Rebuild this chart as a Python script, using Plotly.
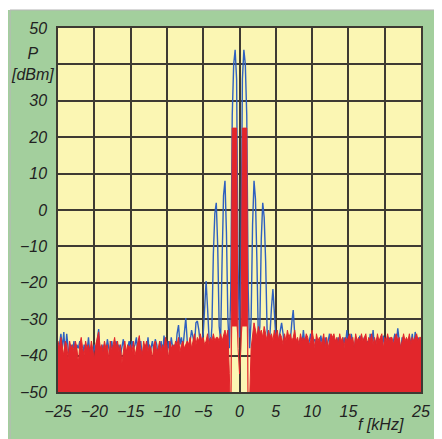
import numpy as np
import plotly.graph_objects as go

# frequency grid (kHz), 0.2 kHz spacing from -25 to 25
f_start, f_step = -25.0, 0.2

blue_dbm = [
    -40, -37, -34, -38, -33.5, -40, -34, -38, -41, -37,
    -39, -36, -40, -37, -38, -36, -38, -40, -37, -39,
    -39, -35, -40, -38, -41, -37, -39, -36, -32.7, -40,
    -40, -37, -41, -39, -35.5, -38, -40, -36, -39, -38,
    -36, -39, -37, -40, -38, -35.5, -39, -41, -38, -36,
    -39, -36, -38, -37, -35, -40, -38, -36, -40, -38,
    -37, -39, -35, -40, -38, -36, -39, -35.5, -37, -40,
    -39, -36, -40, -34.5, -38, -40, -36, -39, -35, -38,
    -37, -39, -34, -31.6, -37, -35, -38, -33, -29.7, -36,
    -38, -36, -33, -35, -37, -31, -30.5, -33, -37, -36,
    -34, -27, -19.5, -27, -35, -38, -32, -12, -1, 2,
    -10, -32, -36, -14, 4, 8, -6, -30, -38, -22,
    26, 40, 44, 36, -15, -35, -15, 36, 44, 40,
    26, -22, -38, -30, -4, 8, 3, -14, -36, -32,
    -8, 2, -2, -14, -33, -37, -34, -27, -21.7, -28,
    -35, -38, -36, -33, -31, -34, -38, -36, -39, -37,
    -36, -31, -27.5, -34, -38, -36, -39, -35, -37, -33,
    -37, -35, -39, -36, -34, -38, -36, -35.5, -39, -37,
    -38, -34.5, -37, -39, -35, -38, -36, -34, -38, -37,
    -36, -39, -37, -35, -38, -36, -39, -35, -37, -33,
    -36, -38, -34, -37, -39, -35, -38, -36, -34.5, -38,
    -37, -35, -38, -36, -39, -34, -37, -33, -38, -36,
    -35, -38, -36, -39, -34.5, -37, -36, -38, -35, -37,
    -38, -36, -34, -37, -32.5, -36, -39, -35, -37, -38,
    -36, -39, -35, -37, -34, -38, -33.5, -37, -35, -36,
    -36,
]

red_dbm = [
    -36, -38, -35, -37, -40, -36, -37, -41, -36, -38,
    -37, -39, -36, -38, -42, -37, -35, -38, -40, -36,
    -38, -37, -39, -36, -38, -41, -37, -35, -33.5, -38,
    -37, -39, -36, -38, -37, -41, -36, -39, -37, -35,
    -38, -36, -39, -37, -42, -38, -36, -39, -37, -38,
    -37, -39, -36, -40, -38, -37, -34.5, -38, -40, -36,
    -38, -36, -39, -37, -38, -41, -37, -36, -39, -38,
    -36, -39, -37, -38, -35, -37, -41, -36, -38, -37,
    -38, -36, -37, -35, -39, -37, -36, -38, -37, -36,
    -37, -35, -38, -36, -34, -37, -35, -36, -34, -36,
    -35, -37, -36, -34, -37, -35, -36, -34, -36, -35,
    -35, -36, -34, -36, -34, -33, -35, -33, -45, -60,
    22.5, 22.5, 22.5, 22.5, -38, -45, -38, 22.5, 22.5, 22.5,
    22.5, -60, -52, -38, -34, -31, -33, -35, -32, -34,
    -33, -35, -32, -34, -36, -33, -35, -34, -36, -33,
    -35, -33, -36, -34, -35, -37, -34, -36, -33, -35,
    -34, -36, -35, -33, -36, -35, -37, -34, -36, -35,
    -36, -34, -35, -37, -36, -33, -35, -38, -34, -36,
    -35, -37, -36, -34, -38, -35, -38, -36, -34, -35,
    -34, -36, -35, -37, -34, -36, -35, -38, -35, -36,
    -35, -34, -36, -35, -38, -34, -36, -35, -36, -34,
    -36, -35, -34, -37, -35, -36, -34, -37, -35, -37,
    -34, -36, -35, -34, -38, -35, -36, -34, -36, -35,
    -35, -37, -35, -34, -36, -35, -38, -36, -34, -36,
    -35, -36, -34, -37, -35, -36, -35, -34, -36, -35,
    -35,
]

x_tick_vals = [-25, -20, -15, -10, -5, 0, 5, 10, 15, 20, 25]
x_tick_text = ["\u221225", "\u221220", "\u221215", "\u221210", "\u22125", "0", "5", "10", "15", "", "25"]
y_tick_vals = [-50, -40, -30, -20, -10, 0, 10, 20, 30, 40, 50]
y_tick_text = ["\u221250", "\u221240", "\u221230", "\u221220", "\u221210", "0", "10", "20", "30", "", "50"]

freq = np.round(f_start + f_step * np.arange(len(blue_dbm)), 2)
red = np.array(red_dbm, dtype=float)
# lower edge of the red fill: below the axis in the noise, a floor under the carrier lobes
red_floor = np.where(np.abs(freq) <= 1.1, np.minimum(red, -32.0), -60.0)

BLUE = "#2f60bf"
RED = "#e2262b"
GREEN = "#a3cf9d"
YELLOW = "#fbf6b3"
GRID = "#3e3a33"
TXT = "#222222"
FONT = "Liberation Sans, Arial, sans-serif"

fig = go.Figure()
fig.add_trace(go.Scatter(x=freq, y=blue_dbm, mode="lines",
                         line=dict(color=BLUE, width=1.4), hoverinfo="skip"))
fig.add_trace(go.Scatter(x=freq, y=red_floor, mode="lines",
                         line=dict(color="rgba(0,0,0,0)", width=0), hoverinfo="skip"))
fig.add_trace(go.Scatter(x=freq, y=red_dbm, mode="lines", fill="tonexty",
                         fillcolor=RED, line=dict(color=RED, width=1.0), hoverinfo="skip"))

tickfont = dict(family=FONT, size=16, color=TXT, style="italic")

# the page adds an 8 px body margin, so the figure is 8 px smaller and offset
fig.update_layout(
    width=434, height=431,
    margin=dict(l=49, r=14, t=20, b=47),
    paper_bgcolor=GREEN, plot_bgcolor=YELLOW,
    showlegend=False,
    xaxis=dict(range=[-25, 25], tickvals=x_tick_vals, ticktext=x_tick_text,
               showgrid=True, gridcolor=GRID, gridwidth=1.5, zeroline=False,
               showline=True, linecolor=GRID, linewidth=1.5, mirror=True,
               ticks="", tickfont=tickfont, ticklabelstandoff=4),
    yaxis=dict(range=[-50, 50], tickvals=y_tick_vals, ticktext=y_tick_text,
               showgrid=True, gridcolor=GRID, gridwidth=1.5, zeroline=False,
               showline=True, linecolor=GRID, linewidth=1.5, mirror=True,
               ticks="", tickfont=tickfont, ticklabelstandoff=6),
    annotations=[
        dict(text="P<br>[dBm]", x=-0.07, xref="paper", y=40, yref="y",
             showarrow=False, xanchor="center", yanchor="middle",
             font=dict(family=FONT, size=16, color=TXT, style="italic")),
        dict(text="f [kHz]", x=19.5, xref="x", y=-0.088, yref="paper",
             showarrow=False, xanchor="center", yanchor="middle",
             font=dict(family=FONT, size=16, color=TXT, style="italic")),
    ],
    shapes=[
        dict(type="rect", xref="paper", yref="paper", x0=-0.14, x1=1.05, y0=1.0495, y1=1.06,
             fillcolor="white", line=dict(width=0), layer="above"),
        dict(type="line", xref="paper", yref="paper", x0=-0.1321, x1=1.05, y0=1.0495, y1=1.0495,
             line=dict(color="#b8b8b8", width=1), layer="above"),
        dict(type="line", xref="paper", yref="paper", x0=-0.1321, x1=-0.1321, y0=-0.2, y1=1.0495,
             line=dict(color="#b8b8b8", width=1), layer="above"),
    ],
)

fig.write_html("out.html")
